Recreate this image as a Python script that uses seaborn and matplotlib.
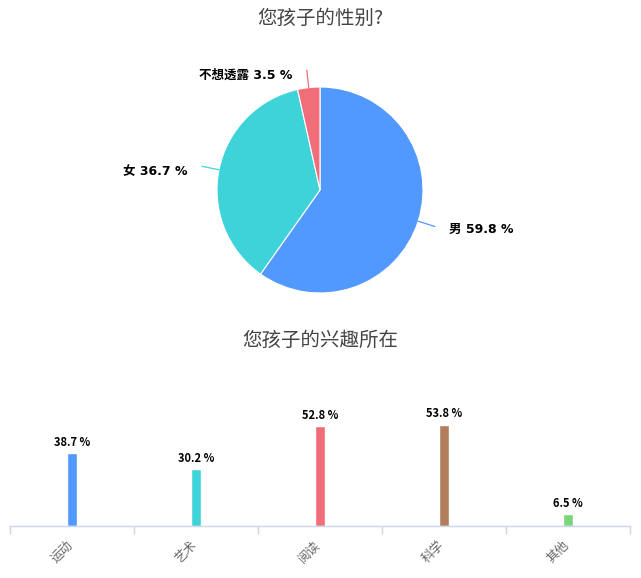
import numpy as np
import matplotlib
matplotlib.use("Agg")
import matplotlib.pyplot as plt
import matplotlib.transforms as mtransforms
import seaborn as sns

# 性别数据
gender_labels = ["男", "女", "不想透露"]
gender_values = [59.8, 36.7, 3.5]
gender_colors = ["#5199ff", "#3dd3d9", "#f06e7a"]

# 兴趣数据
interest_cats = ["运动", "艺术", "阅读", "科学", "其他"]
interest_values = [38.7, 30.2, 52.8, 53.8, 6.5]
interest_colors = ["#5199ff", "#3dd3d9", "#f06e7a", "#b27d5c", "#7ad67a"]

sns.set_style("white")
plt.rcParams['font.family'] = ['Noto Sans CJK SC', 'DejaVu Sans']
label_fonts = ['DejaVu Sans', 'Noto Sans CJK SC']

fig = plt.figure(figsize=(6.41, 5.78), dpi=100)
W, H = 641, 578

# ---- 饼图 ----
cx, cy, r = 320, 190, 103
ax_pie = fig.add_axes([(cx - r) / W, (H - cy - r) / H, 2 * r / W, 2 * r / H])
wedges, _ = ax_pie.pie(gender_values, colors=gender_colors, startangle=90,
                       counterclock=False,
                       wedgeprops=dict(edgecolor="white", linewidth=0.8))
ax_pie.set_xlim(-1, 1)
ax_pie.set_ylim(-1, 1)
ax_pie.set_aspect("equal")
ax_pie.axis("off")

for w, lab, val, col in zip(wedges, gender_labels, gender_values, gender_colors):
    ang = np.deg2rad((w.theta1 + w.theta2) / 2)
    x0, y0 = np.cos(ang), np.sin(ang)
    x1, y1 = 1.17 * x0, 1.17 * y0
    side = 1 if x0 > 0 else -1
    ax_pie.plot([x0, x1], [y0, y1], color=col, lw=0.9, clip_on=False)
    ax_pie.text(x1 + side * 0.14, y1 - 0.03 - 0.02 * (y0 > 0), f"{lab} {val} %",
                ha="left" if side > 0 else "right", va="center",
                fontsize=9, fontweight="bold", color="black",
                family=label_fonts)

fig.text(0.5, 1 - 18 / H, "您孩子的性别?", ha="center", va="center",
         fontsize=14, color="#444444")

# ---- 柱状图 ----
fig.text(0.5, 1 - 340 / H, "您孩子的兴趣所在", ha="center", va="center",
         fontsize=14, color="#444444")

ax_bar = fig.add_axes([10 / W, 52 / H, 620 / W, 132 / H])
sns.barplot(x=interest_cats, y=interest_values, hue=interest_cats,
            palette=interest_colors, width=0.08, legend=False, ax=ax_bar,
            saturation=1)
ax_bar.set_xlim(-0.5, len(interest_cats) - 0.5)
ax_bar.set_ylim(0, 70)
for i, v in enumerate(interest_values):
    ax_bar.text(i, v + 2.2, f"{v} %", ha="center", va="bottom",
                fontsize=8, fontweight="bold", color="black")

for s in ["top", "left", "right"]:
    ax_bar.spines[s].set_visible(False)
ax_bar.spines["bottom"].set_color("#ccd6eb")
ax_bar.spines["bottom"].set_linewidth(1)
ax_bar.set_yticks([])
ax_bar.set_xticks(range(len(interest_cats)))
ax_bar.set_xticklabels(interest_cats, rotation=45, ha="right",
                       rotation_mode="anchor", fontsize=9, color="#666666")
ax_bar.set_xticks(np.arange(-0.5, len(interest_cats)), minor=True)
ax_bar.tick_params(axis="x", which="major", length=0, pad=9)
ax_bar.tick_params(axis="x", which="minor", length=6, color="#ccd6eb",
                   width=1, bottom=True)
shift = mtransforms.ScaledTranslation(-6 / 100, 0, fig.dpi_scale_trans)
for t in ax_bar.get_xticklabels():
    t.set_transform(t.get_transform() + shift)
ax_bar.set_xlabel("")
ax_bar.set_ylabel("")

fig.savefig("out.png", dpi=100)
